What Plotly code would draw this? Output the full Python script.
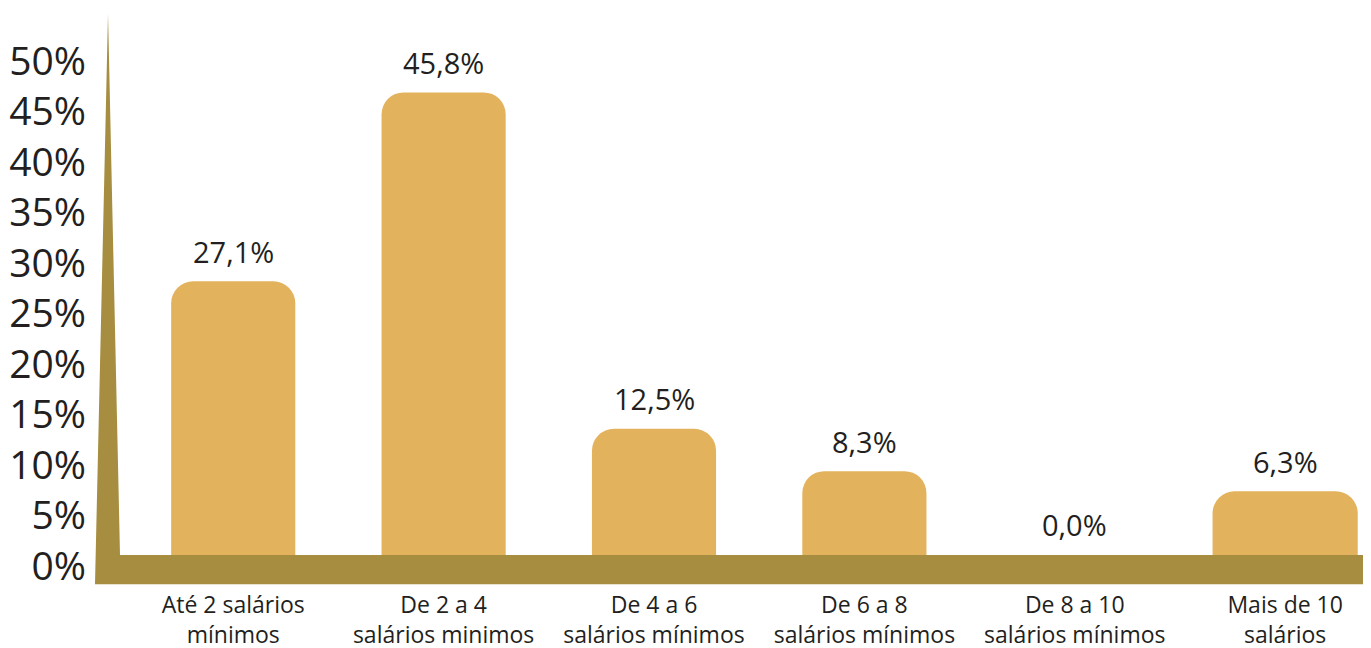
import plotly.graph_objects as go

categories = [
    "Até 2 salários<br>mínimos",
    "De 2 a 4<br>salários minimos",
    "De 4 a 6<br>salários mínimos",
    "De 6 a 8<br>salários mínimos",
    "De 8 a 10<br>salários mínimos",
    "Mais de 10<br>salários",
]
values = [27.1, 45.8, 12.5, 8.3, 0.0, 6.3]
value_labels = ["27,1%", "45,8%", "12,5%", "8,3%", "0,0%", "6,3%"]
y_ticks = [0, 5, 10, 15, 20, 25, 30, 35, 40, 45, 50]
y_tick_labels = [f"{v}%" for v in y_ticks]

BAR = "#E3B25C"
FLOOR = "#A68D40"
TEXT = "#231F20"
FONT = "Open Sans"

fig = go.Figure()
fig.add_trace(go.Bar(
    x=categories,
    y=values,
    marker=dict(color=BAR, line=dict(width=0), cornerradius=22),
    width=[0.59, 0.59, 0.59, 0.59, 0.62, 0.69],
    hoverinfo="skip",
))

for c, v, t in zip(categories, values, value_labels):
    fig.add_annotation(
        x=c, y=v, text=t, showarrow=False, xref="x", yref="y",
        yanchor="middle", yshift=30,
        font=dict(family=FONT, size=29, color=TEXT),
    )

# floor and left wall (decorative 3D base)
fig.add_shape(
    type="path",
    xref="paper", yref="y",
    path="M 0,-2.9 L 0.0102,53.6 L 0.0196,0 L 1,0 L 1,-2.9 Z",
    fillcolor=FLOOR, line=dict(width=0), layer="above",
)

# the page body adds an 8px margin, so the figure is 8px smaller and offset
fig.update_layout(
    width=1363, height=640,
    margin=dict(l=87, r=0, t=2, b=62),
    paper_bgcolor="white", plot_bgcolor="white",
    showlegend=False,
    bargap=0.4,
    font=dict(family=FONT, color=TEXT),
    xaxis=dict(
        type="category",
        range=[-0.657, 5.408],
        automargin=False,
        showgrid=False, zeroline=False, showline=False, ticks="",
        tickfont=dict(family=FONT, size=23, color=TEXT),
        ticklabelstandoff=3,
    ),
    yaxis=dict(
        range=[-3.07, 53.96],
        automargin=False,
        tickvals=y_ticks, ticktext=y_tick_labels,
        showgrid=False, zeroline=False, showline=False, ticks="",
        tickfont=dict(family=FONT, size=39, color=TEXT),
        ticklabelstandoff=8,
        ticklabelshift=11,
    ),
)

fig.write_html("out.html")
